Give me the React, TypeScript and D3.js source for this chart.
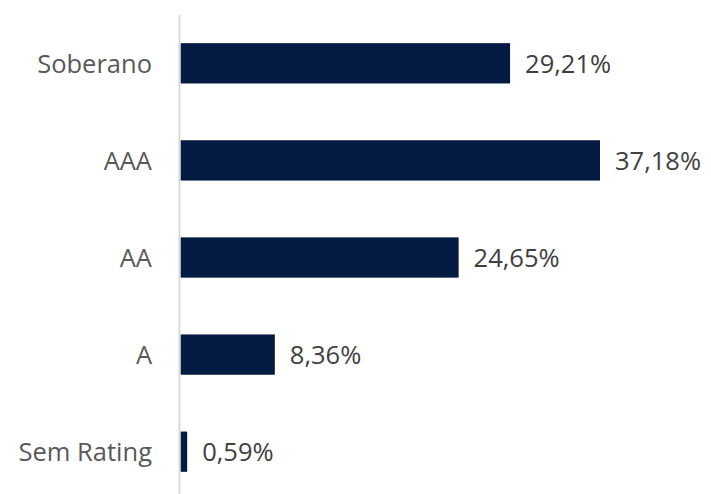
import React from "react";
import * as d3 from "d3";

const categories = ["Soberano", "AAA", "AA", "A", "Sem Rating"];
const values = [29.21, 37.18, 24.65, 8.36, 0.59];
const valueLabels = ["29,21%", "37,18%", "24,65%", "8,36%", "0,59%"];

const W = 711;
const H = 494;
const x0 = 180.5;

export default function App() {
  const x = d3.scaleLinear().domain([0, 37.18]).range([x0, 600]);
  const y = d3.scaleBand<string>().domain(categories).range([15, 500]).paddingInner(0.585).paddingOuter(0.29);
  const font = "'Open Sans', sans-serif";
  return (
    <svg width={W} height={H} style={{ position: "absolute", left: 0, top: 0, background: "#fff" }}>
      {categories.map((c, i) => {
        const yy = y(c)!;
        const bw = y.bandwidth();
        return (
          <g key={c}>
            <rect x={x(0)} y={yy} width={x(values[i]) - x(0)} height={bw} fill="#031a42" />
            <text x={152} y={yy + bw / 2} dy="0.38em" textAnchor="end" fontFamily={font} fontSize={25.5} fill="#595959">{c}</text>
            <text x={x(values[i]) + 15} y={yy + bw / 2} dy="0.38em" textAnchor="start" fontFamily={font} fontSize={25.5} fill="#404040">{valueLabels[i]}</text>
          </g>
        );
      })}
      <line x1={179.5} x2={179.5} y1={15} y2={H} stroke="#d9d9d9" strokeWidth={2} />
    </svg>
  );
}
